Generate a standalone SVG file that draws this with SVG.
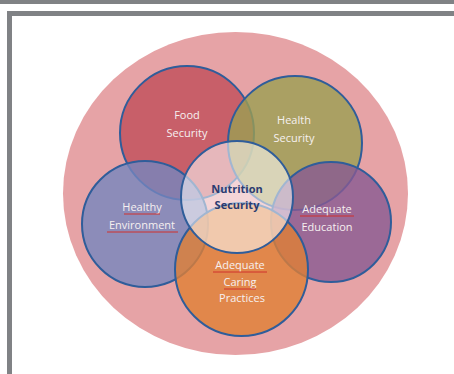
<svg xmlns="http://www.w3.org/2000/svg" width="454" height="374" viewBox="0 0 454 374">
<style>
.frame{fill:#808285}
.c{stroke:#2f5d9a;stroke-width:2;fill-opacity:0.8}
.t{font-family:"Open Sans","Liberation Sans",sans-serif;font-size:11px;fill:#f6f0f0;text-anchor:middle}
.n{font-family:"Open Sans","Liberation Sans",sans-serif;font-size:11px;font-weight:bold;fill:#2b3b70;text-anchor:middle}
.sq{stroke:#d0312d;stroke-width:1;fill:none}
</style>
<rect width="454" height="374" fill="#ffffff"/>
<rect class="frame" x="0" y="0" width="454" height="4"/>
<rect class="frame" x="7" y="11" width="447" height="5"/>
<rect class="frame" x="7" y="11" width="5" height="363"/>
<g id="outer"><ellipse cx="235.5" cy="193.5" rx="172.5" ry="161.5" fill="#e6a3a6"/></g>
<g id="food"><circle class="c" cx="187" cy="133" r="67" fill="#c04e5a"/></g>
<g id="health"><circle class="c" cx="295" cy="143" r="67" fill="#9b9f53"/></g>
<g id="education"><circle class="c" cx="331" cy="222" r="60" fill="#885a92"/></g>
<g id="environment"><circle class="c" cx="145" cy="224" r="63" fill="#7586be"/></g>
<g id="caring"><circle class="c" cx="241.5" cy="269.5" r="66.5" fill="#e08034"/></g>
<g id="nutrition"><circle cx="237" cy="197" r="56" fill="#ffffff" fill-opacity="0.55" stroke="#2f5d9a" stroke-width="2"/></g>
<g id="labels">
<text class="t" x="187" y="119">Food</text>
<text class="t" x="187" y="137">Security</text>
<text class="t" x="294" y="124">Health</text>
<text class="t" x="294" y="142">Security</text>
<text class="t" x="142" y="211">Healthy</text>
<text class="t" x="142" y="229">Environment</text>
<text class="t" x="327" y="213">Adequate</text>
<text class="t" x="327" y="231">Education</text>
<text class="t" x="240" y="269">Adequate</text>
<text class="t" x="240" y="286">Caring</text>
<text class="t" x="242" y="302">Practices</text>
<text class="n" x="237" y="193">Nutrition</text>
<text class="n" x="237" y="209">Security</text>
</g>
<g id="squiggles">
<path class="sq" d="M124 214h36"/>
<path class="sq" d="M107 232h71"/>
<path class="sq" d="M300 216h54"/>
<path class="sq" d="M213 272h54"/>
<path class="sq" d="M224 289h32"/>
</g>
</svg>
